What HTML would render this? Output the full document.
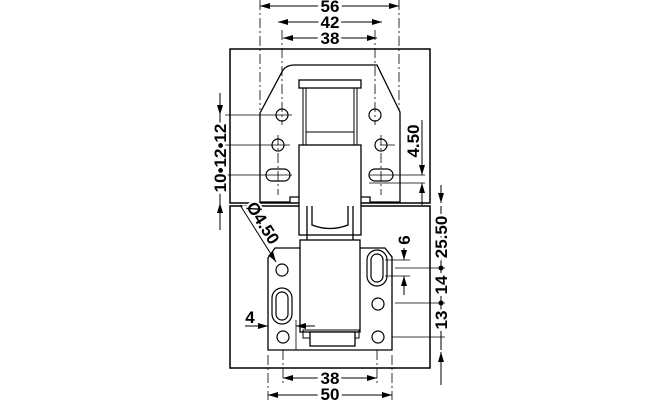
<!DOCTYPE html>
<html><head><style>body{margin:0;background:#fff}svg{display:block}</style></head><body>
<svg width="660" height="400" viewBox="0 0 660 400" xmlns="http://www.w3.org/2000/svg" font-family="Liberation Sans, sans-serif" font-weight="bold" fill="none" stroke="#000">
<defs><marker id="a" viewBox="0 0 10 6" refX="10" refY="3" markerWidth="10" markerHeight="6" orient="auto-start-reverse" markerUnits="userSpaceOnUse"><path d="M0,0L10,3L0,6z" fill="#000" stroke="none"/></marker></defs>
<rect x="230" y="49" width="200" height="154" stroke-width="1.5"/>
<rect x="230" y="206" width="200" height="162" stroke-width="1.5"/>
<path d="M260,113 L283,70 Q287,65 294,65 L377,65 L400,112 L400,202 L370,202 L370,197 L357,197 L357,202 L303,202 L303,197 L290,197 L290,202 L260,202 Z" stroke-width="1.3"/>
<rect x="299" y="80" width="62" height="8" stroke-width="1.3"/>
<path d="M303,88 V145 M357,88 V145 M306,88 V145 M354,88 V145" stroke-width="1"/>
<rect x="306" y="132" width="48" height="13" stroke-width="1"/>
<rect x="299" y="145" width="62" height="90" fill="#fff" stroke-width="1.3"/>
<path d="M307,206 V250 M353,206 V250 M312,206 V225 Q330,232 348,225 V206" stroke-width="1.3"/>
<path d="M268,258 L275,248 L385,248 L392,257 L392,350 L268,350 Z" stroke-width="1.3"/>
<rect x="300" y="240" width="60" height="92" fill="#fff" stroke-width="1.3"/>
<rect x="303" y="330" width="56" height="8" stroke-width="1"/>
<rect x="310" y="332" width="45" height="14" stroke-width="1.3" fill="#fff"/>
<g stroke-width="1.2">
<circle cx="282" cy="115" r="6"/><circle cx="375" cy="115" r="6"/>
<circle cx="278" cy="145" r="6"/><circle cx="381" cy="145" r="6"/>
<rect x="266" y="169" width="24" height="12" rx="6"/><rect x="369" y="169" width="24" height="12" rx="6"/>
<circle cx="282" cy="270" r="6"/><circle cx="283" cy="337" r="6"/>
<circle cx="378" cy="304" r="6"/><circle cx="378" cy="337" r="6"/>
<rect x="276" y="292" width="12" height="28" rx="6"/><rect x="272" y="288" width="20" height="36" rx="10"/>
<rect x="371" y="254" width="12" height="28" rx="6"/><rect x="367" y="250" width="20" height="36" rx="10"/>
</g>
<g stroke-width="0.8" stroke-dasharray="10,3,2,3">
<path d="M282,30 V125 M375,30 V125 M278,135 V195 M381,135 V195 M260,0 V110 M399,0 V110"/>
<path d="M268,355 V400 M392,355 V400 M283,350 V385 M377,350 V385"/>
</g>
<g stroke-width="0.8">
<path d="M225,115 H292 M225,145 H290 M225,175 H292 M369,175 H425 M369,183 H425 M395,145 H380"/>
<path d="M395,268 H445 M395,303 H445 M392,337 H445 M385,260 H410 M385,276 H410"/>
<path d="M268,320 V350 M296,320 V350"/>
</g>
<g stroke-width="1" marker-start="url(#a)" marker-end="url(#a)">
<path d="M260,6 H399"/><path d="M278,22 H382"/><path d="M283,38 H377"/>
<path d="M283,378 H377"/><path d="M268,395 H392"/>
</g>
<g stroke-width="1" marker-end="url(#a)">
<path d="M220,93 V115"/><path d="M220,230 V203"/>
<path d="M422,120 V175"/><path d="M422,205 V183"/>
<path d="M441,185 V203"/><path d="M441,385 V352"/>
<path d="M404,248 V260"/><path d="M404,295 V276"/>
<path d="M245,326 H268"/><path d="M315,326 H296"/>
<path d="M240,205 L276,262"/>
</g>
<path d="M220,115 V203 M441,206 V350" stroke-width="1"/>
<g fill="#000" stroke="none" font-size="17" text-anchor="middle">
<circle cx="220" cy="145" r="2.5"/><circle cx="220" cy="175" r="2.5"/>
<circle cx="441" cy="268" r="2.5"/><circle cx="441" cy="303" r="2.5"/>
<text x="330" y="12" stroke="#fff" stroke-width="6" style="paint-order:stroke">56</text>
<text x="330" y="28" stroke="#fff" stroke-width="6" style="paint-order:stroke">42</text>
<text x="330" y="44" stroke="#fff" stroke-width="6" style="paint-order:stroke">38</text>
<text x="330" y="384" stroke="#fff" stroke-width="6" style="paint-order:stroke">38</text>
<text x="330" y="400" stroke="#fff" stroke-width="6" style="paint-order:stroke">50</text>
<text transform="translate(226,158) rotate(-90)" stroke="#fff" stroke-width="5" style="paint-order:stroke">10•12•12</text>
<text transform="translate(419,141) rotate(-90)">4.50</text>
<text transform="translate(447,237) rotate(-90)" stroke="#fff" stroke-width="5" style="paint-order:stroke">25.50</text>
<text transform="translate(447,285) rotate(-90)" stroke="#fff" stroke-width="5" style="paint-order:stroke">14</text>
<text transform="translate(447,320) rotate(-90)" stroke="#fff" stroke-width="5" style="paint-order:stroke">13</text>
<text transform="translate(410,240) rotate(-90)">6</text>
<text x="250" y="323">4</text>
<text transform="translate(258,226) rotate(58)" stroke="#fff" stroke-width="4" style="paint-order:stroke">Ø4.50</text>
</g>
</svg>
</body></html>
